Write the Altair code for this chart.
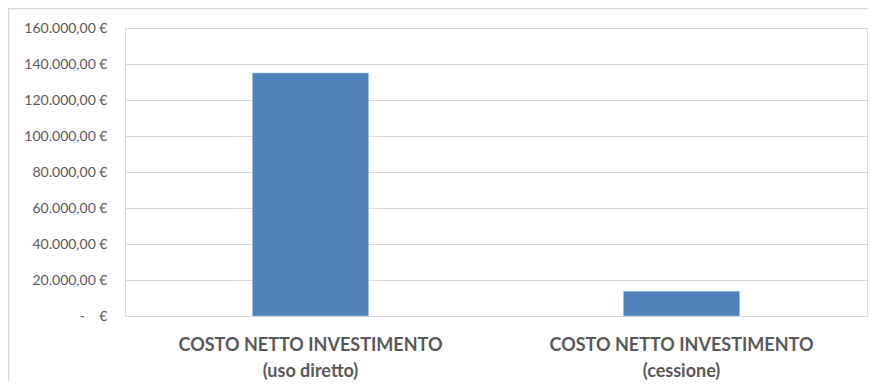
import altair as alt
import pandas as pd

categories = ["COSTO NETTO INVESTIMENTO\n(uso diretto)", "COSTO NETTO INVESTIMENTO\n(cessione)"]
values = [135000, 13700]
y_ticks = [0, 20000, 40000, 60000, 80000, 100000, 120000, 140000, 160000]

df = pd.DataFrame({"cat": categories, "val": values})

W, H = 742, 288
PL, PT, PR, PB = 117, 20, 1, 65

label_expr = (
    "datum.value == 0 ? '-\u00a0\u00a0\u00a0\u00a0€' : "
    "replace(replace(replace(format(datum.value, ',.2f'), ',', '#'), '.', ','), '#', '.') + ' €'"
)

bars = alt.Chart(df).mark_bar(color="#4f81bd", stroke="#a9c4e6", strokeWidth=0.6).encode(
    x=alt.X(
        "cat:N",
        sort=categories,
        scale=alt.Scale(paddingInner=0.687, paddingOuter=0.3435),
        axis=alt.Axis(
            title=None,
            labelAngle=0,
            labelExpr="split(datum.label, '\\n')",
            labelFont="Lato",
            labelFontWeight="bold",
            labelFontSize=18,
            labelColor="#595959",
            labelPadding=20,
            labelLineHeight=26,
            labelLimit=0,
            domain=False,
            ticks=False,
        ),
    ),
    y=alt.Y(
        "val:Q",
        scale=alt.Scale(domain=[0, 160000], nice=False),
        axis=alt.Axis(
            title=None,
            values=y_ticks,
            labelExpr=label_expr,
            labelFont="Lato",
            labelFontSize=14,
            labelColor="#595959",
            labelPadding=18,
            domain=False,
            ticks=False,
            grid=True,
            gridColor="#d9d9d9",
            gridWidth=1,
        ),
    ),
)

border = alt.Chart(pd.DataFrame({"a": [0]})).mark_rect(
    fill=None, stroke="#d9d9d9", strokeWidth=1.5, clip=False
).encode(
    x=alt.value(-PL + 0.5),
    x2=alt.value(W + 200),
    y=alt.value(-PT + 0.5),
    y2=alt.value(H + 200),
)

chart = alt.layer(border, bars).properties(
    width=W,
    height=H,
    autosize=alt.AutoSizeParams(type="none"),
    padding={"left": PL, "top": PT, "right": PR, "bottom": PB},
).configure_view(stroke=None).configure(background="white")

chart.save("out.html", embed_options={"renderer": "svg", "actions": False})
